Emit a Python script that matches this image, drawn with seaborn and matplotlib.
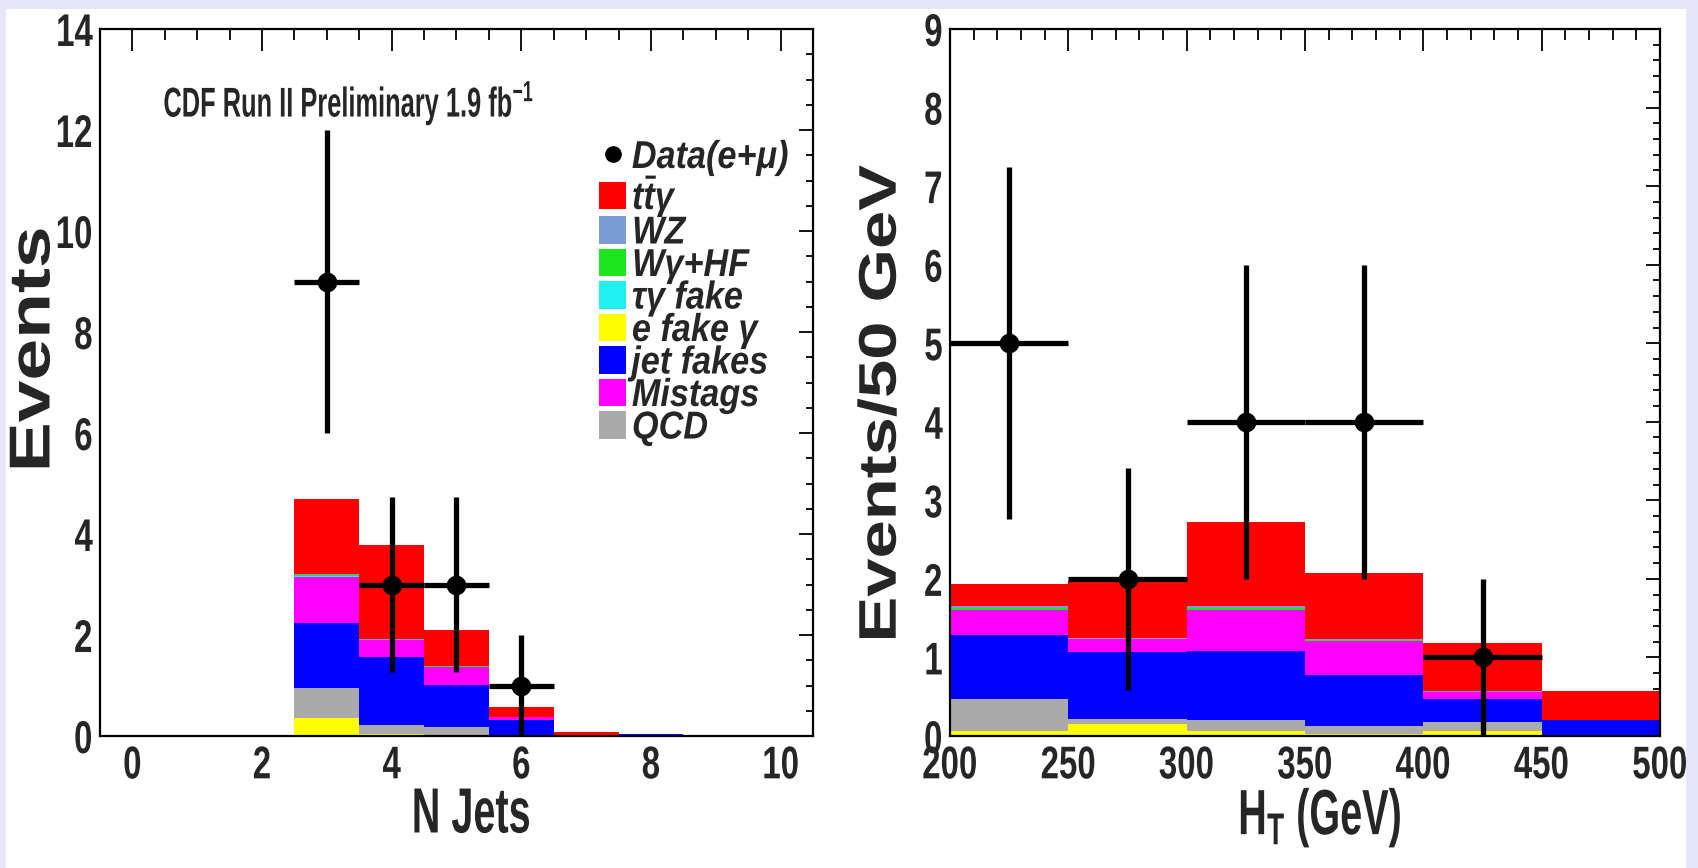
import types
import numpy as np
import pandas as pd
import matplotlib
matplotlib.use("Agg")
import matplotlib.pyplot as plt
import seaborn as sns
from matplotlib import patheffects
from matplotlib.text import Text
from matplotlib.transforms import Affine2D, Bbox
from matplotlib.patches import Rectangle, Patch
from matplotlib.lines import Line2D
from matplotlib.ticker import MultipleLocator

# ---------------- data ----------------
components = ["ttgamma", "WZ", "Wgamma+HF", "taugamma fake", "e fake gamma", "jet fakes", "Mistags", "QCD"]
legend_labels = [r"$t\bar{t}\gamma$", "WZ", "Wγ+HF", "τγ fake", "e fake γ", "jet fakes", "Mistags", "QCD"]
comp_colors = ["#ff0000", "#7b9bd3", "#1ee61e", "#20f0f0", "#ffff00", "#0000ff", "#ff00ff", "#aaaaaa"]
# stacking order from top of stack to bottom
stack_order = ["ttgamma", "WZ", "Wgamma+HF", "taugamma fake", "Mistags", "jet fakes", "QCD", "e fake gamma"]

# N jets distribution
njet_centers = [3, 4, 5, 6, 7, 8]
njet_ttgamma = [1.48, 1.85, 0.71, 0.21, 0.07, 0.00]
njet_wz = [0.03, 0.02, 0.01, 0.00, 0.00, 0.00]
njet_wgamma = [0.02, 0.01, 0.01, 0.00, 0.00, 0.00]
njet_taugamma = [0.01, 0.00, 0.00, 0.00, 0.00, 0.00]
njet_efake = [0.35, 0.03, 0.02, 0.02, 0.00, 0.00]
njet_jetfakes = [1.28, 1.35, 0.83, 0.30, 0.00, 0.03]
njet_mistags = [0.92, 0.33, 0.36, 0.05, 0.00, 0.00]
njet_qcd = [0.60, 0.19, 0.16, 0.00, 0.00, 0.00]

njet_data_x = [3, 4, 5, 6]
njet_data_y = [9, 3, 3, 1]
njet_data_yerr = [3.0, 1.73, 1.73, 1.0]
njet_data_xerr = [0.5, 0.5, 0.5, 0.5]
njet_edges = [-0.5, 0.5, 1.5, 2.5, 3.5, 4.5, 5.5, 6.5, 7.5, 8.5, 9.5, 10.5]

# H_T distribution
ht_centers = [225, 275, 325, 375, 425, 475]
ht_ttgamma = [0.29, 0.72, 1.08, 0.84, 0.61, 0.37]
ht_wz = [0.02, 0.01, 0.02, 0.01, 0.01, 0.00]
ht_wgamma = [0.02, 0.00, 0.02, 0.01, 0.00, 0.00]
ht_taugamma = [0.01, 0.00, 0.01, 0.00, 0.00, 0.00]
ht_efake = [0.07, 0.15, 0.07, 0.03, 0.07, 0.00]
ht_jetfakes = [0.82, 0.85, 0.88, 0.65, 0.29, 0.20]
ht_mistags = [0.31, 0.17, 0.52, 0.43, 0.09, 0.00]
ht_qcd = [0.40, 0.07, 0.13, 0.10, 0.11, 0.00]

ht_data_x = [225, 275, 325, 375, 425]
ht_data_y = [5, 2, 4, 4, 1]
ht_data_yerr = [2.24, 1.41, 2.0, 2.0, 1.0]
ht_data_xerr = [25, 25, 25, 25, 25]
ht_edges = [200, 250, 300, 350, 400, 450, 500]

njet_ticks = [0, 2, 4, 6, 8, 10]
ht_ticks = [200, 250, 300, 350, 400, 450, 500]

# ---------------- helpers ----------------
class Squeeze(patheffects.AbstractPathEffect):
    """Compress glyphs horizontally (the reference lettering is narrow)."""
    def __init__(self, sx=0.77, ha="center"):
        super().__init__()
        self.sx = sx
        self.ha = ha

    def draw_path(self, renderer, gc, tpath, affine, rgbFace=None):
        ext = tpath.get_extents(affine)
        if self.ha == "right":
            px = ext.x1
        elif self.ha == "left":
            px = ext.x0
        else:
            px = 0.5 * (ext.x0 + ext.x1)
        aff = affine + Affine2D().translate(-px, 0).scale(self.sx, 1.0).translate(px, 0)
        renderer.draw_path(gc, tpath, aff, rgbFace)


def _make_extent(sx, ha):
    def get_window_extent(self, renderer=None, dpi=None):
        bb = Text.get_window_extent(self, renderer, dpi)
        x0, x1 = bb.x0, bb.x1
        if ha == "right":
            px = x1
        elif ha == "left":
            px = x0
        else:
            px = 0.5 * (x0 + x1)
        return Bbox([[px + (x0 - px) * sx, bb.y0], [px + (x1 - px) * sx, bb.y1]])
    return get_window_extent


def squeeze(texts, sx, ha):
    for t in texts:
        t.set_path_effects([Squeeze(sx, ha)])
        t.get_window_extent = types.MethodType(_make_extent(sx, ha), t)


def to_long(centers, series):
    frames = []
    for name, vals in zip(components, series):
        frames.append(pd.DataFrame({"x": centers, "w": vals, "comp": name}))
    return pd.concat(frames, ignore_index=True)


# ---------------- style ----------------
sns.set_style("white")
plt.rcParams["font.family"] = ["Liberation Sans", "DejaVu Sans"]
plt.rcParams["font.weight"] = "bold"
plt.rcParams["axes.labelweight"] = "bold"
plt.rcParams["mathtext.fontset"] = "custom"
plt.rcParams["mathtext.rm"] = "Liberation Sans:bold"
plt.rcParams["mathtext.it"] = "Liberation Sans:italic:bold"
plt.rcParams["mathtext.bf"] = "Liberation Sans:bold"
plt.rcParams["axes.linewidth"] = 1.6

W, H = 1699, 868
fig = plt.figure(figsize=(W / 100, H / 100), dpi=100)
fig.patch.set_facecolor("#e6e6fa")
fig.add_artist(Rectangle((6 / W, 0), 1680 / W, (H - 9) / H, transform=fig.transFigure,
                         facecolor="white", edgecolor="none", zorder=-10))

ax1 = fig.add_axes([100 / W, (H - 736) / H, 713 / W, 707 / H])
ax2 = fig.add_axes([950 / W, (H - 736) / H, 710 / W, 707 / H])

pal = dict(zip(components, comp_colors))

df_nj = to_long(njet_centers, [njet_ttgamma, njet_wz, njet_wgamma, njet_taugamma,
                               njet_efake, njet_jetfakes, njet_mistags, njet_qcd])
df_ht = to_long(ht_centers, [ht_ttgamma, ht_wz, ht_wgamma, ht_taugamma,
                             ht_efake, ht_jetfakes, ht_mistags, ht_qcd])

for ax, df, edges in [(ax1, df_nj, njet_edges), (ax2, df_ht, ht_edges)]:
    sns.histplot(data=df, x="x", weights="w", hue="comp", hue_order=stack_order,
                 palette=pal, multiple="stack", bins=edges, element="bars",
                 fill=True, alpha=1, linewidth=0, legend=False, ax=ax)

for ax, dx, dy, xe, ye in [(ax1, njet_data_x, njet_data_y, njet_data_xerr, njet_data_yerr),
                           (ax2, ht_data_x, ht_data_y, ht_data_xerr, ht_data_yerr)]:
    ax.errorbar(dx, dy, xerr=xe, yerr=ye, fmt="none", ecolor="black",
                elinewidth=3.8, capsize=0, zorder=4)
    sns.scatterplot(x=dx, y=dy, color="black", s=200, linewidth=0, zorder=5, ax=ax)

# axes ranges and ticks
ax1.set_xlim(-0.5, 10.5)
ax1.set_ylim(0, 14)
ax1.set_xticks(njet_ticks)
ax1.xaxis.set_minor_locator(MultipleLocator(0.5))
ax1.yaxis.set_major_locator(MultipleLocator(2))
ax1.yaxis.set_minor_locator(MultipleLocator(0.5))

ax2.set_xlim(200, 500)
ax2.set_ylim(0, 9)
ax2.set_xticks(ht_ticks)
ax2.xaxis.set_minor_locator(MultipleLocator(10))
ax2.yaxis.set_major_locator(MultipleLocator(1))
ax2.yaxis.set_minor_locator(MultipleLocator(0.2))

for ax in (ax1, ax2):
    for s in ax.spines.values():
        s.set_visible(True)
        s.set_color("black")
        s.set_linewidth(1.6)
    ax.tick_params(which="both", direction="in", top=True, right=True,
                   color="black", width=1.3, labelsize=33)
    ax.tick_params(axis="x", which="major", length=16, pad=6)
    ax.tick_params(axis="x", which="minor", length=8)
    ax.tick_params(axis="y", which="major", length=10, pad=5)
    ax.tick_params(axis="y", which="minor", length=5)
    ax.set_facecolor("white")
    squeeze(ax.get_xticklabels(), 0.72, "center")
    squeeze(ax.get_yticklabels(), 0.72, "right")

ax1.set_xlabel("N Jets", fontsize=46)
ax1.xaxis.set_label_coords(0.52, -0.07)
ax1.set_ylabel("Events", fontsize=54, va="center")
ax1.yaxis.set_label_coords(-0.09, 0.547)
ax2.set_xlabel(r"H$_{\mathrm{T}}$ (GeV)", fontsize=46)
ax2.xaxis.set_label_coords(0.52, -0.07)
ax2.set_ylabel("Events/50 GeV", fontsize=49.5, va="center")
ax2.yaxis.set_label_coords(-0.094, 0.47)
squeeze([ax1.xaxis.label, ax2.xaxis.label], 0.62, "center")
squeeze([ax1.yaxis.label, ax2.yaxis.label], 0.77, "center")

title = ax1.text(0.088, 0.895, r"CDF Run II Preliminary 1.9 fb$^{-1}$",
                 transform=ax1.transAxes, ha="left", va="center", fontsize=30)
squeeze([title], 0.61, "left")

handles = [Line2D([], [], marker="o", color="black", linestyle="none", markersize=11)]
handles += [Patch(facecolor=c, edgecolor="none") for c in comp_colors]
labels = ["Data(e+μ)"] + legend_labels
leg = ax1.legend(handles, labels, loc="upper left", bbox_to_anchor=(0.70, 0.843),
                 frameon=False, prop={"family": "Liberation Sans", "style": "italic",
                                      "weight": "bold", "size": 28},
                 handlelength=0.7, handleheight=0.7, handletextpad=0.14,
                 labelspacing=-0.09, borderpad=0, borderaxespad=0)
squeeze(leg.get_texts(), 0.88, "left")

fig.savefig("out.png", dpi=100, facecolor=fig.get_facecolor())
